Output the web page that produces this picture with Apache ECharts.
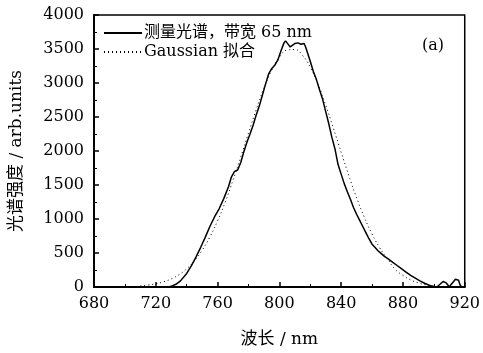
<!DOCTYPE html>
<html>
<head>
<meta charset="utf-8">
<script src="https://cdn.jsdelivr.net/npm/echarts@6/dist/echarts.min.js"></script>
<style>
  html, body { margin: 0; padding: 0; background: #fff; }
  #chart { width: 483px; height: 353px; }
</style>
</head>
<body>
<div id="chart"></div>
<script>
const measuredNm = [725, 728, 730, 733, 736, 740, 743, 746, 749, 752, 755, 758, 761, 764, 767, 769, 771, 773, 775, 777,
  779, 781, 783, 785, 787, 789, 791, 793, 795, 797, 799, 801, 803, 804, 805, 806, 807, 808, 810, 811,
  812, 814, 816, 817, 818, 820, 822, 824, 826, 828, 830, 832, 834, 836, 838, 840, 842, 844, 846, 848,
  850, 852, 854, 856, 858, 860, 862, 864, 866, 868, 870, 873, 876, 879, 882, 885, 888, 891, 894, 897,
  900, 902, 904, 906, 908, 910, 912, 914, 916, 917, 918, 920]
const measuredVal = [0, 0, 10, 40, 90, 200, 310, 440, 580, 730, 890, 1030, 1150, 1300, 1470, 1620, 1700, 1720, 1830, 1990,
  2130, 2250, 2380, 2530, 2660, 2820, 2980, 3130, 3210, 3260, 3340, 3470, 3590, 3620, 3600, 3560, 3530, 3550, 3580, 3560,
  3590, 3570, 3580, 3530, 3460, 3320, 3170, 3050, 2900, 2760, 2580, 2400, 2200, 2030, 1800, 1660, 1520, 1400, 1290, 1170,
  1070, 980, 890, 800, 710, 630, 580, 530, 490, 450, 420, 370, 320, 270, 220, 170, 130, 90, 55, 25,
  5, 0, 40, 80, 60, 5, 60, 115, 100, 30, 0, 0]

// Gaussian fit curve
const fitNm = [710, 715, 720, 725, 730, 735, 740, 745, 750, 755, 760, 765, 770, 775, 780, 785, 790, 795, 800, 805,
  810, 815, 820, 825, 830, 835, 840, 845, 850, 855, 860, 865, 870, 875, 880, 885, 890, 895, 900]
const fitVal = [17, 29, 47, 76, 119, 181, 268, 386, 541, 735, 973, 1253, 1570, 1911, 2264, 2608, 2924, 3186, 3378, 3483,
  3492, 3406, 3231, 2981, 2674, 2334, 1982, 1636, 1314, 1026, 779, 576, 413, 260, 170, 105, 60, 30, 15]

const legendNames = ['测量光谱，带宽 65 nm', 'Gaussian 拟合']

const serif = 'DejaVu Serif, Noto Sans CJK SC'

function zip(xs, ys) {
  return xs.map((x, i) => [x, ys[i]])
}

const chart = echarts.init(document.getElementById('chart'))

chart.setOption({
  animation: false,
  backgroundColor: '#fff',
  title: {
    text: '(a)',
    right: 34,
    top: 33,
    textStyle: { fontFamily: serif, fontSize: 16, fontWeight: 'normal', color: '#000' }
  },
  legend: {
    orient: 'vertical',
    left: 98,
    top: 20,
    itemWidth: 38,
    itemHeight: 10,
    itemGap: 3,
    itemStyle: { opacity: 0 },
    textStyle: { fontFamily: serif, fontSize: 16, color: '#000', padding: [0, 0, 0, -3] },
    data: legendNames
  },
  grid: {
    left: 94,
    right: 16,
    top: 15,
    bottom: 66,
    show: true,
    borderColor: '#000',
    borderWidth: 1.5
  },
  xAxis: {
    type: 'value',
    min: 680,
    max: 920,
    interval: 40,
    name: '波长 / nm',
    nameLocation: 'middle',
    nameGap: 44,
    nameTextStyle: { fontFamily: serif, fontSize: 17, color: '#000' },
    axisLine: { lineStyle: { color: '#000', width: 2 } },
    axisTick: { inside: true, length: 5, lineStyle: { color: '#000', width: 1.5 } },
    minorTick: { show: true, splitNumber: 2, length: 3, lineStyle: { color: '#000' } },
    axisLabel: { fontFamily: serif, fontSize: 16, color: '#000', margin: 9 },
    splitLine: { show: false }
  },
  yAxis: {
    type: 'value',
    min: 0,
    max: 4000,
    interval: 500,
    name: '光谱强度 / arb.units',
    nameLocation: 'middle',
    nameGap: 69,
    nameTextStyle: { fontFamily: serif, fontSize: 17, color: '#000' },
    axisLine: { lineStyle: { color: '#000', width: 2 } },
    axisTick: { inside: true, length: 5, lineStyle: { color: '#000', width: 1.5 } },
    minorTick: { show: true, splitNumber: 2, length: 3, lineStyle: { color: '#000' } },
    axisLabel: { fontFamily: serif, fontSize: 16, color: '#000', margin: 10, formatter: (v) => String(v) },
    splitLine: { show: false }
  },
  series: [
    {
      name: legendNames[0],
      type: 'line',
      data: zip(measuredNm, measuredVal),
      showSymbol: false,
      symbol: 'none',
      lineStyle: { color: '#000', width: 1.5 },
      itemStyle: { color: '#000' },
      z: 3
    },
    {
      name: legendNames[1],
      type: 'line',
      data: zip(fitNm, fitVal),
      smooth: true,
      showSymbol: false,
      symbol: 'none',
      lineStyle: { color: '#000', width: 1, type: [1, 3] },
      itemStyle: { color: '#000' },
      z: 2
    }
  ]
})
</script>
</body>
</html>
